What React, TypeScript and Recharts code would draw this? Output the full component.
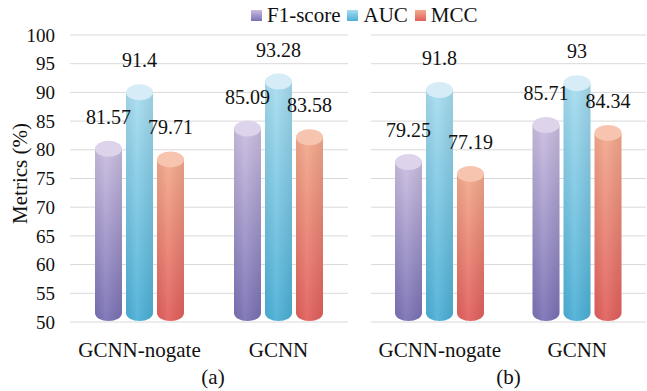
import React from 'react';
import { BarChart, Bar, XAxis, YAxis, CartesianGrid, Legend, LabelList } from 'recharts';

const FONT = '"Liberation Serif", "Times New Roman", Times, serif';
const TXT = { fontFamily: FONT };

const categories = ['GCNN-nogate', 'GCNN'];
const seriesKeys = ['f1', 'auc', 'mcc'];
const seriesNames = ['F1-score', 'AUC', 'MCC'];
const f1A = [81.57, 85.09];
const aucA = [91.4, 93.28];
const mccA = [79.71, 83.58];
const f1B = [79.25, 85.71];
const aucB = [91.8, 93];
const mccB = [77.19, 84.34];
const yTicks = [50, 55, 60, 65, 70, 75, 80, 85, 90, 95, 100];
const panelLabels = ['(a)', '(b)'];
const yAxisTitle = 'Metrics (%)';

const COLORS: Record<string, { cap: string; light: string; dark: string }> = {
  f1: { cap: '#ddd3eb', light: '#cabde0', dark: '#7970b4' },
  auc: { cap: '#d6ecf7', light: '#a8ddf0', dark: '#4aafd6' },
  mcc: { cap: '#f7c5af', light: '#f3aa8d', dark: '#e15e5b' },
};

const build = (f1: number[], auc: number[], mcc: number[]) =>
  categories.map((name, i) => ({ name, f1: f1[i], auc: auc[i], mcc: mcc[i] }));

const dataA = build(f1A, aucA, mccA);
const dataB = build(f1B, aucB, mccB);

const Cylinder = (props: any) => {
  const { x, y, width, height, gradId, cap, shadeId } = props;
  if (!height || height <= 0) return null;
  const rx = width / 2;
  const ry = 8;
  const bottom = y + height - 1;
  const d = `M${x},${y + ry} L${x},${bottom - ry} A${rx},${ry} 0 0 0 ${x + width},${bottom - ry} L${x + width},${y + ry} Z`;
  return (
    <g>
      <path d={d} fill={`url(#${gradId})`} />
      <path d={d} fill={`url(#${shadeId})`} />
      <ellipse cx={x + rx} cy={y + ry} rx={rx} ry={ry} fill={cap} />
    </g>
  );
};

const CatTick = (p: any) => (
  <text x={p.x} y={p.y} dy="0.35em" textAnchor="middle" fontSize={21} fill="#111" style={TXT}>
    {p.payload.value}
  </text>
);

const NumTick = (p: any) => (
  <text x={p.x} y={p.y} dy="0.35em" textAnchor="end" fontSize={19} fill="#111" style={TXT}>
    {p.payload.value}
  </text>
);

const ValueLabel = (p: any) => {
  const { x, y, width, value } = p;
  return (
    <text x={x + width / 2} y={y - 17} textAnchor="middle" fontSize={20} fill="#111" style={TXT}>
      {value}
    </text>
  );
};

const LegendContent = () => (
  <div
    style={{
      display: 'flex',
      alignItems: 'center',
      fontFamily: FONT,
      fontSize: 21,
      color: '#111',
      lineHeight: '24px',
      whiteSpace: 'nowrap',
    }}
  >
    {seriesKeys.map((k, i) => (
      <span key={k} style={{ display: 'flex', alignItems: 'center', marginRight: 7 }}>
        <span
          style={{
            display: 'inline-block',
            width: 11,
            height: 11,
            marginRight: 5,
            background: `linear-gradient(${COLORS[k].light}, ${COLORS[k].dark})`,
          }}
        />
        {seriesNames[i]}
      </span>
    ))}
  </div>
);

const Defs = ({ prefix }: { prefix: string }) => (
  <defs>
    {seriesKeys.map((k) => (
      <linearGradient key={k} id={`${prefix}-${k}`} x1="0" y1="0" x2="0" y2="1">
        <stop offset="0%" stopColor={COLORS[k].light} />
        <stop offset="100%" stopColor={COLORS[k].dark} />
      </linearGradient>
    ))}
    <linearGradient id={`${prefix}-shade`} x1="0" y1="0" x2="1" y2="0">
      <stop offset="0%" stopColor="#000" stopOpacity={0.05} />
      <stop offset="40%" stopColor="#fff" stopOpacity={0.08} />
      <stop offset="100%" stopColor="#000" stopOpacity={0.07} />
    </linearGradient>
  </defs>
);

const renderBars = (prefix: string) =>
  seriesKeys.map((k) => (
    <Bar
      key={k}
      dataKey={k}
      name={seriesNames[seriesKeys.indexOf(k)]}
      isAnimationActive={false}
      shape={(p: any) => <Cylinder {...p} gradId={`${prefix}-${k}`} shadeId={`${prefix}-shade`} cap={COLORS[k].cap} />}
    >
      <LabelList dataKey={k} content={<ValueLabel />} />
    </Bar>
  ));

const panelLabel = (text: string, dx: number) => ({
  value: text,
  content: (p: any) => {
    const vb = p.viewBox || { x: 0, y: 0, width: 0, height: 0 };
    return (
      <text
        x={vb.x + vb.width / 2 + dx}
        y={vb.y + vb.height + 15}
        dy="0.35em"
        textAnchor="middle"
        fontSize={21}
        fill="#111"
        style={TXT}
      >
        {text}
      </text>
    );
  },
});

const yTitle = {
  value: yAxisTitle,
  content: (p: any) => {
    const vb = p.viewBox || { x: 0, y: 0, width: 0, height: 0 };
    const cx = vb.x + 20;
    const cy = vb.y + vb.height / 2 - 5;
    return (
      <text
        x={cx}
        y={cy}
        dy="0.35em"
        textAnchor="middle"
        fontSize={21}
        fill="#111"
        style={TXT}
        transform={`rotate(-90, ${cx}, ${cy})`}
      >
        {yAxisTitle}
      </text>
    );
  },
};

export default function App() {
  return (
    <div style={{ position: 'absolute', left: 0, top: 0, width: 647, height: 391, background: '#fff', fontFamily: FONT }}>
      <div style={{ position: 'absolute', left: 0, top: 0 }}>
        <BarChart
          width={360}
          height={391}
          data={dataA}
          margin={{ top: 35, right: 12, bottom: 29, left: 0 }}
          barSize={27}
          barGap={4}
          style={TXT}
        >
          <Defs prefix="ga" />
          <CartesianGrid vertical={false} stroke="#d9d9d9" />
          <XAxis
            dataKey="name"
            axisLine={false}
            tickLine={false}
            tickSize={0}
            tickMargin={28}
            height={40}
            interval={0}
            tick={<CatTick />}
            label={panelLabel(panelLabels[0], 4)}
          />
          <YAxis
            domain={[50, 100]}
            ticks={yTicks}
            allowDataOverflow
            axisLine={false}
            tickLine={false}
            tickSize={0}
            tickMargin={15}
            width={70}
            tick={<NumTick />}
            label={yTitle}
          />
          <Legend
            layout="horizontal"
            verticalAlign="middle"
            align="center"
            wrapperStyle={{ top: 3, left: 251, width: 260, height: 24 }}
            content={<LegendContent />}
          />
          {renderBars('ga')}
        </BarChart>
      </div>
      <div style={{ position: 'absolute', left: 360, top: 0 }}>
        <BarChart
          width={287}
          height={391}
          data={dataB}
          margin={{ top: 35, right: 1, bottom: 29, left: 11 }}
          barSize={27}
          barGap={4}
          style={TXT}
        >
          <Defs prefix="gb" />
          <CartesianGrid vertical={false} stroke="#d9d9d9" />
          <XAxis
            dataKey="name"
            axisLine={false}
            tickLine={false}
            tickSize={0}
            tickMargin={28}
            height={40}
            interval={0}
            tick={<CatTick />}
            label={panelLabel(panelLabels[1], 0)}
          />
          <YAxis domain={[50, 100]} ticks={yTicks} allowDataOverflow hide width={0} />
          {renderBars('gb')}
        </BarChart>
      </div>
    </div>
  );
}
